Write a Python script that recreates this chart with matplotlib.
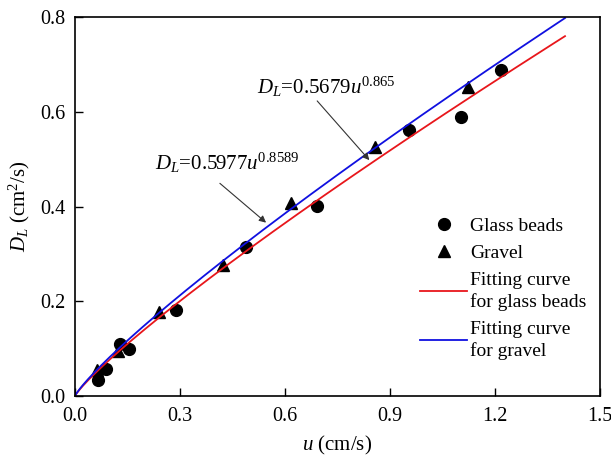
import matplotlib
matplotlib.use("Agg")
import matplotlib.pyplot as plt
import numpy as np

plt.rcParams['font.family'] = 'Liberation Serif'
plt.rcParams['mathtext.fontset'] = 'custom'
plt.rcParams['mathtext.rm'] = 'Liberation Serif'
plt.rcParams['mathtext.it'] = 'Liberation Serif:italic'

# measured data
glass_u = [0.067, 0.090, 0.130, 0.154, 0.289, 0.490, 0.692, 0.954, 1.104, 1.217]
glass_d = [0.034, 0.058, 0.109, 0.100, 0.182, 0.315, 0.401, 0.561, 0.588, 0.689]
gravel_u = [0.062, 0.124, 0.241, 0.424, 0.617, 0.857, 1.124]
gravel_d = [0.055, 0.096, 0.177, 0.277, 0.407, 0.526, 0.653]

# fitted power laws D = a * u^b
glass_fit = (0.5679, 0.865)
gravel_fit = (0.5977, 0.8589)
u_max = 1.4

fig = plt.figure(figsize=(6.11, 4.62), dpi=100)
ax = fig.add_axes([0.1227, 0.1429, 0.8593, 0.8201])

u = np.linspace(0, u_max, 300)
ax.plot(glass_u, glass_d, 'o', color='black', markersize=8.5, label='Glass beads')
ax.plot(gravel_u, gravel_d, '^', color='black', markersize=8.5, label='Gravel')
ax.plot(u, glass_fit[0] * u ** glass_fit[1], color='#e8161b', lw=1.3,
        label='Fitting curve\nfor glass beads')
ax.plot(u, gravel_fit[0] * u ** gravel_fit[1], color='#1010e0', lw=1.3,
        label='Fitting curve\nfor gravel')

arrow = dict(arrowstyle='-|>', color='#333333', lw=0.8,
             shrinkA=0, shrinkB=0, mutation_scale=10)
ax.annotate('', xy=(0.546, 0.366), xytext=(0.414, 0.449), arrowprops=arrow)
ax.text(0.229, 0.492, r'$D_L$=0.5977$u^{0.8589}$', fontsize=15, ha='left', va='center')
ax.annotate('', xy=(0.841, 0.498), xytext=(0.692, 0.623), arrowprops=arrow)
ax.text(0.519, 0.652, r'$D_L$=0.5679$u^{0.865}$', fontsize=15, ha='left', va='center')

ax.set_xlim(0, 1.5)
ax.set_ylim(0, 0.8)
ax.set_xticks([0.0, 0.3, 0.6, 0.9, 1.2, 1.5])
ax.set_yticks([0.0, 0.2, 0.4, 0.6, 0.8])
ax.xaxis.set_major_formatter(matplotlib.ticker.FormatStrFormatter('%.1f'))
ax.yaxis.set_major_formatter(matplotlib.ticker.FormatStrFormatter('%.1f'))
ax.tick_params(direction='in', length=6, width=1, labelsize=14.5)
ax.tick_params(axis='x', pad=8)
ax.tick_params(axis='y', pad=7)
for s in ax.spines.values():
    s.set_linewidth(1.2)

ax.set_xlabel(r'$u$ (cm/s)', fontsize=15, labelpad=6)
ax.set_ylabel(r'$D_L$ (cm$^2$/s)', fontsize=15, labelpad=6)

leg = ax.legend(loc='lower right', bbox_to_anchor=(1.0, 0.06), frameon=False,
                fontsize=14, handlelength=2.4, handletextpad=0.15,
                labelspacing=0.5, borderpad=0.2)
for t in leg.get_texts():
    t.set_linespacing(1.3)

fig.savefig('out.png', dpi=100)
